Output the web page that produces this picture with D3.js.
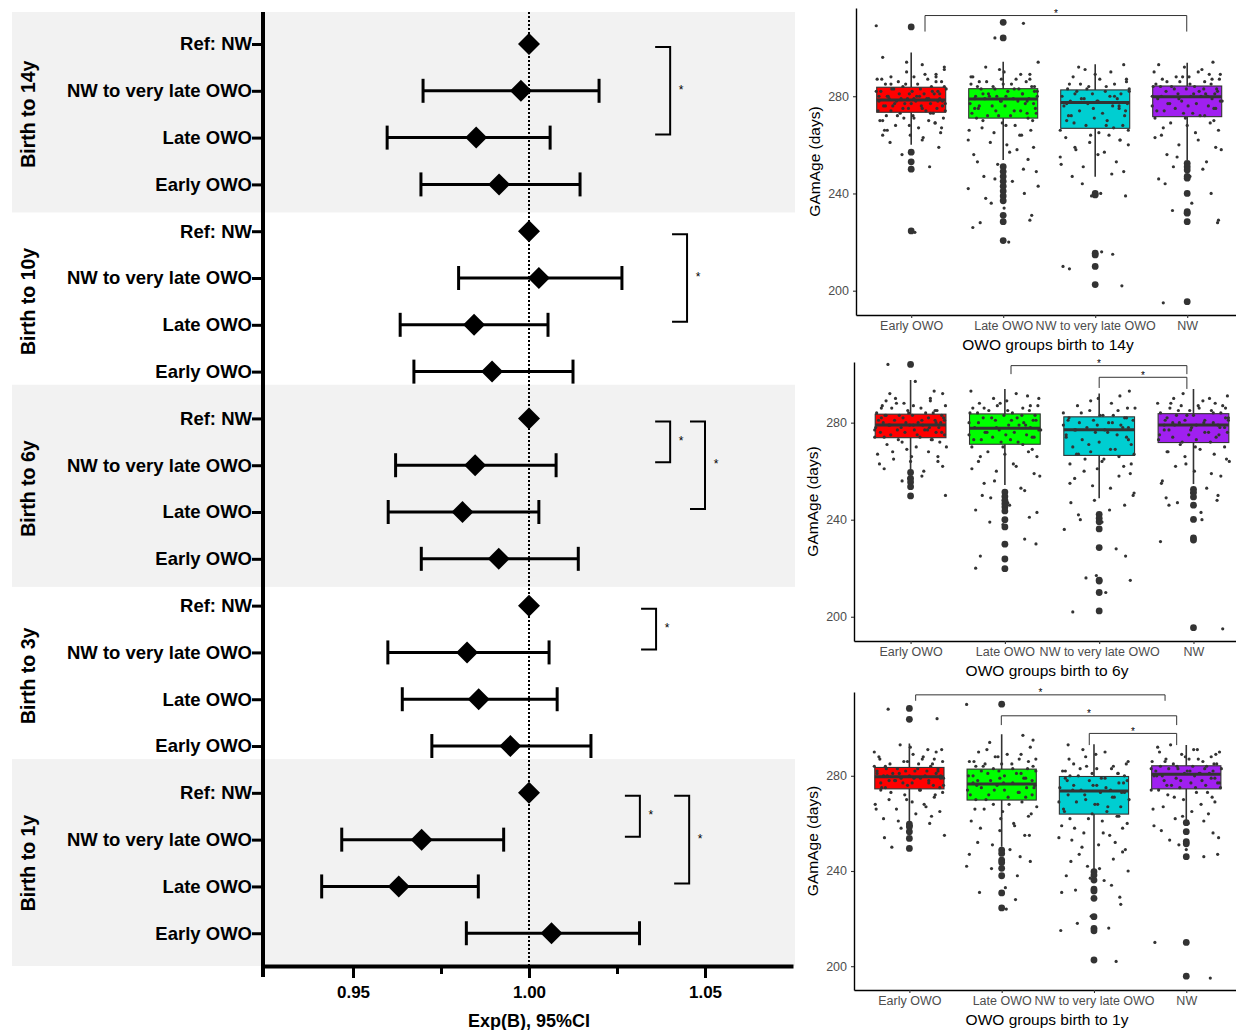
<!DOCTYPE html>
<html>
<head>
<meta charset="utf-8">
<script src="https://cdn.jsdelivr.net/npm/d3@7"></script>
<style>
  body { margin: 0; background: #fff; }
  text { font-family: "Liberation Sans", Arial, sans-serif; }
</style>
</head>
<body>
<svg id="chart"></svg>
<script>
// ---- Forest plot data ----
const groups = ["Birth to 14y", "Birth to 10y", "Birth to 6y", "Birth to 3y", "Birth to 1y"];
const rowLabels = ["Ref: NW", "NW to very late OWO", "Late OWO", "Early OWO"];

const est14 = [1.0, 0.9977, 0.985, 0.9915];
const lo14 = [null, 0.9699, 0.9597, 0.9693];
const hi14 = [null, 1.0199, 1.006, 1.0145];
const est10 = [1.0, 1.0028, 0.9844, 0.9895];
const lo10 = [null, 0.98, 0.9634, 0.9673];
const hi10 = [null, 1.0264, 1.0054, 1.0125];
const est6 = [1.0, 0.9847, 0.9811, 0.9914];
const lo6 = [null, 0.9621, 0.96, 0.9694];
const hi6 = [null, 1.0077, 1.0028, 1.014];
const est3 = [1.0, 0.9824, 0.9857, 0.9947];
const lo3 = [null, 0.9599, 0.964, 0.9724];
const hi3 = [null, 1.0057, 1.008, 1.0176];
const est1 = [1.0, 0.9695, 0.963, 1.0064];
const lo1 = [null, 0.9468, 0.9411, 0.9822];
const hi1 = [null, 0.9928, 0.9856, 1.0314];

const xTicks = [0.95, 0.975, 1.0, 1.025, 1.05];
const xTickLabels = ["0.95", "", "1.00", "", "1.05"];

// significance brackets: group, from row, to row, x (in Exp(B) units)
const forestSig = [
  { g: 0, from: 0, to: 2, x: 1.0401 },
  { g: 1, from: 0, to: 2, x: 1.0449 },
  { g: 2, from: 0, to: 1, x: 1.0401 },
  { g: 2, from: 0, to: 2, x: 1.05 },
  { g: 3, from: 0, to: 1, x: 1.0361 },
  { g: 4, from: 0, to: 1, x: 1.0315 },
  { g: 4, from: 0, to: 2, x: 1.0455 }
];

// ---- Box plot data ----
const boxCats = ["Early OWO", "Late OWO", "NW to very late OWO", "NW"];
const boxColors = ["#ff0000", "#00ff00", "#00ced1", "#a020f0"];

const q1_14 = [273.4, 271, 266.8, 271.6];
const med14 = [278.5, 278.9, 277.4, 279.8];
const q3_14 = [283.7, 283.1, 282.6, 284.2];
const wlo14 = [260, 253.8, 246.9, 253.8];
const whi14 = [298, 294.2, 293.2, 293.8];
const out14 = [
  [308.5, 257, 253, 250, 224.6],
  [310.4, 304, 251, 249, 247, 245, 243, 241, 239, 237, 231, 228.4, 220.6],
  [240, 239.4, 215.4, 214.7, 210, 202.5],
  [252.4, 251, 249.7, 247, 246.3, 240, 232.5, 231.9, 228.4, 195.5]
];
const jit14 = [
  [296, 293, 291, 290, 289, 288, 288, 287, 287, 286, 286, 285, 285, 284, 284, 283, 283, 282, 282, 282, 281, 281, 281, 280, 280, 280, 279, 279, 279, 279, 278, 278, 278, 277, 277, 277, 276, 276, 276, 275, 275, 274, 274, 273, 273, 272, 272, 271, 271, 270, 270, 269, 268, 267, 266, 265, 264, 263, 261, 259, 256, 251, 309, 224,
   289, 287, 286, 285, 284, 283, 283, 282, 282, 281, 281, 280, 280, 279, 279, 278, 278, 277, 277, 276, 276, 275, 275, 274, 274, 273, 272, 271, 270, 269, 268, 267, 266, 264, 262, 292, 294, 288, 285, 279],
  [310, 304, 294, 292, 290, 289, 288, 287, 287, 286, 286, 285, 285, 284, 284, 283, 283, 282, 282, 281, 281, 280, 280, 280, 279, 279, 279, 278, 278, 277, 277, 276, 276, 275, 275, 274, 274, 273, 273, 272, 272, 271, 270, 269, 268, 267, 266, 265, 264, 262, 260, 258, 256, 254, 252, 249, 247, 245, 242, 240, 236, 231, 228, 220,
   291, 289, 288, 287, 286, 285, 284, 284, 283, 283, 282, 281, 281, 280, 280, 279, 278, 278, 277, 276, 275, 274, 273, 272, 271, 270, 268, 266, 264, 261, 259, 257, 253, 250, 246, 243, 238, 234, 229, 226],
  [293, 291, 290, 288, 287, 286, 285, 285, 284, 283, 283, 282, 282, 281, 281, 280, 280, 279, 279, 278, 278, 277, 277, 276, 276, 275, 274, 273, 272, 272, 271, 270, 269, 268, 268, 267, 266, 265, 264, 263, 262, 261, 260, 258, 257, 255, 253, 251, 249, 247, 240, 239, 215, 210, 202,
   292, 289, 287, 285, 284, 283, 282, 281, 280, 279, 278, 277, 276, 275, 274, 272, 270, 268, 266, 264, 262, 259, 256, 252, 248, 244, 239, 216, 209],
  [294, 292, 291, 290, 289, 288, 288, 287, 287, 286, 286, 285, 285, 284, 284, 284, 283, 283, 282, 282, 281, 281, 281, 280, 280, 280, 279, 279, 278, 278, 277, 277, 276, 276, 275, 275, 274, 273, 273, 272, 271, 270, 269, 268, 266, 264, 262, 260, 258, 256, 253, 251, 247, 246, 240, 232, 228, 195,
   293, 290, 289, 288, 287, 286, 285, 284, 283, 283, 282, 281, 280, 280, 279, 278, 277, 276, 275, 274, 272, 271, 269, 267, 265, 263, 259, 255, 250, 244, 236, 229, 233]
];

const q1_6 = [273.8, 271.1, 266.5, 271.8];
const med6 = [279, 277.7, 277.1, 279];
const q3_6 = [283.5, 283.6, 282.4, 283.7];
const wlo6 = [260.5, 254.3, 248.8, 254.7];
const whi6 = [297.6, 293.9, 292, 293.9];
const out6 = [
  [304, 259.5, 257, 255.5, 253.6, 249.8],
  [251.4, 249.6, 248, 246.6, 245.2, 243.6, 240, 237, 229.9, 223.8, 219.8],
  [242.2, 240.6, 239.2, 236.2, 228.5, 215.1, 214.7, 210, 202.4],
  [252.5, 251.2, 249.4, 246, 240.1, 232.5, 231.6, 195.5]
];
const jit6 = [
  [304, 297, 292, 290, 289, 288, 287, 287, 286, 286, 285, 285, 284, 284, 284, 283, 283, 283, 282, 282, 282, 281, 281, 281, 280, 280, 280, 279, 279, 279, 278, 278, 278, 277, 277, 277, 276, 276, 276, 275, 275, 274, 274, 273, 273, 272, 271, 270, 269, 268, 267, 266, 265, 264, 262, 261, 258, 256, 250,
   292, 290, 288, 287, 286, 285, 284, 283, 283, 282, 281, 281, 280, 280, 279, 279, 278, 277, 277, 276, 275, 274, 273, 272, 270, 268, 266, 264, 263, 260, 257, 293, 289],
  [293, 291, 290, 289, 288, 287, 287, 286, 286, 285, 285, 284, 284, 283, 283, 282, 282, 281, 281, 280, 280, 279, 279, 278, 278, 277, 277, 276, 276, 275, 275, 274, 274, 273, 273, 272, 271, 270, 269, 268, 267, 266, 264, 262, 260, 258, 255, 252, 249, 247, 244, 241, 238, 230, 225, 220,
   292, 290, 288, 287, 286, 285, 284, 283, 282, 281, 281, 280, 279, 278, 277, 276, 275, 274, 273, 272, 270, 268, 266, 263, 261, 259, 256, 253, 250, 246, 243, 239, 232],
  [293, 290, 288, 287, 286, 285, 285, 284, 283, 283, 282, 282, 281, 281, 280, 280, 279, 279, 278, 278, 277, 277, 276, 275, 274, 274, 273, 272, 271, 270, 269, 268, 267, 267, 266, 265, 264, 263, 262, 261, 259, 257, 255, 253, 250, 248, 246, 242, 239, 236, 228, 216, 215, 210, 202,
   291, 289, 286, 284, 283, 282, 281, 280, 279, 278, 277, 276, 275, 273, 271, 269, 267, 265, 263, 260, 258, 254, 251, 247, 244, 240, 225, 217],
  [291, 290, 289, 288, 288, 287, 287, 286, 286, 285, 285, 284, 284, 283, 283, 282, 282, 281, 281, 281, 280, 280, 280, 279, 279, 279, 278, 278, 277, 277, 276, 276, 275, 275, 274, 273, 273, 272, 271, 270, 269, 268, 267, 266, 264, 262, 260, 258, 256, 253, 251, 248, 246, 240, 231, 195,
   292, 290, 288, 287, 286, 285, 284, 283, 282, 281, 280, 279, 278, 277, 276, 275, 274, 272, 270, 268, 265, 263, 259, 255, 250, 247, 243, 249]
];

const q1_1 = [274.5, 269.8, 263.9, 274.5];
const med1 = [279.6, 276.5, 273.6, 280.6];
const q3_1 = [283.5, 282.8, 279.7, 284.2];
const wlo1 = [260.7, 250.2, 240.7, 261.4];
const whi1 = [293.6, 297.5, 293.2, 292.9];
const out1 = [
  [308.3, 303.7, 259.7, 258.6, 256.5, 253.7, 249.5],
  [310.1, 248.8, 247.4, 244.6, 243.6, 241.1, 238, 230.8, 224.5],
  [239.7, 238.3, 236.2, 232.4, 231.6, 228.5, 220.8, 215.9, 214.9, 202.6],
  [260.3, 256.5, 252.3, 251.4, 246, 210, 195.8]
];
const jit1 = [
  [308, 304, 293, 291, 290, 289, 288, 287, 287, 286, 286, 285, 285, 284, 284, 283, 283, 283, 282, 282, 282, 281, 281, 281, 280, 280, 280, 279, 279, 279, 278, 278, 278, 277, 277, 276, 276, 275, 275, 274, 274, 273, 272, 271, 270, 269, 268, 267, 266, 265, 264, 262, 260, 258, 255, 250,
   292, 290, 288, 287, 286, 285, 284, 283, 282, 282, 281, 280, 280, 279, 279, 278, 277, 277, 276, 275, 274, 273, 272, 270, 268, 266, 263, 261, 259, 254, 291],
  [310, 297, 294, 292, 290, 289, 288, 287, 286, 286, 285, 285, 284, 284, 283, 283, 282, 282, 281, 281, 280, 280, 279, 279, 278, 278, 277, 277, 276, 276, 275, 275, 274, 274, 273, 272, 272, 271, 270, 269, 268, 267, 266, 265, 263, 261, 259, 257, 255, 252, 249, 247, 244, 241, 238, 231, 224,
   295, 291, 289, 288, 287, 286, 285, 284, 283, 282, 281, 280, 279, 278, 277, 276, 275, 274, 273, 272, 271, 270, 268, 266, 264, 262, 260, 258, 255, 251, 246, 242, 233, 228],
  [293, 290, 288, 286, 285, 284, 283, 283, 282, 281, 281, 280, 280, 279, 279, 278, 278, 277, 276, 276, 275, 274, 274, 273, 273, 272, 271, 270, 270, 269, 268, 267, 266, 265, 264, 263, 262, 261, 259, 258, 256, 255, 253, 251, 249, 247, 245, 242, 240, 238, 236, 232, 229, 221, 216, 215, 202,
   291, 289, 287, 285, 284, 283, 282, 281, 280, 279, 278, 277, 276, 275, 274, 273, 272, 271, 269, 268, 267, 265, 263, 262, 260, 258, 256, 254, 252, 250, 248, 244, 241, 237, 234, 231, 226, 218],
  [292, 291, 290, 289, 288, 287, 287, 286, 286, 285, 285, 284, 284, 284, 283, 283, 283, 282, 282, 282, 281, 281, 281, 280, 280, 280, 279, 279, 278, 278, 277, 277, 276, 276, 275, 275, 274, 273, 272, 271, 270, 268, 266, 264, 262, 260, 257, 254, 251, 246, 210, 195,
   293, 291, 290, 289, 288, 287, 286, 285, 284, 283, 283, 282, 281, 280, 279, 278, 277, 276, 275, 274, 273, 271, 269, 267, 265, 263, 261, 259, 256, 253, 249, 247]
];

// horizontal jitter offsets (category units)
const jitterX = [-0.31, 0.12, 0.36, -0.05, 0.27, -0.22, 0.03, -0.37, 0.18, -0.14, 0.33, 0.07, -0.28, 0.22, -0.09, 0.38, -0.19, 0.01, 0.29, -0.33, 0.14, -0.02, 0.25, -0.26, 0.09, -0.35, 0.31, -0.11, 0.17, -0.24, 0.05, 0.34, -0.16, 0.21, -0.07, 0.37, -0.3, 0.11, -0.2, 0.28, -0.03, 0.16, -0.36, 0.24, -0.12, 0.02, -0.27, 0.35, -0.08, 0.19, -0.34, 0.26, -0.17, 0.08, -0.29, 0.32, -0.01, 0.13, -0.23, 0.3, -0.1, 0.2, -0.38, 0.04,
  0.15, -0.32, 0.27, -0.06, 0.36, -0.21, 0.1, -0.38, 0.23, -0.13, 0.31, -0.25, 0.06, -0.04, 0.19, -0.35, 0.29, -0.18, 0.0, 0.34, -0.28, 0.12, -0.09, 0.37, -0.22, 0.21, -0.15, 0.03, -0.31, 0.26, -0.02, 0.33, -0.26];

// box plot significance brackets (x in category units, y in days)
const sig14 = [{ x1: 1.15, x2: 3.995, y: 313.2, leg1: 306.6, leg2: 306.6 }];
const sig6 = [
  { x1: 2.065, x2: 3.93, y: 303.5, leg1: 300, leg2: 300 },
  { x1: 3.0, x2: 3.93, y: 298.7, leg1: 294.3, leg2: 293.9 }
];
const sig1 = [
  { x1: 1.068, x2: 3.77, y: 314, leg1: 311.5, leg2: 311.5 },
  { x1: 1.996, x2: 3.896, y: 305.2, leg1: 301.3, leg2: 301.3 },
  { x1: 2.949, x2: 3.896, y: 297.8, leg1: 292.9, leg2: 292.9 }
];

// ---- SVG ----
const W = 1236, H = 1030;
const svg = d3.select("#chart").attr("width", W).attr("height", H);
svg.append("rect").attr("width", W).attr("height", H).attr("fill", "#fff");

// ================= Forest plot =================
const forestEst = [est14, est10, est6, est3, est1];
const forestLo = [lo14, lo10, lo6, lo3, lo1];
const forestHi = [hi14, hi10, hi6, hi3, hi1];

const rows = groups.flatMap((g, gi) =>
  rowLabels.map((label, k) => ({
    gi, k, r: gi * 4 + k, label,
    est: forestEst[gi][k], lo: forestLo[gi][k], hi: forestHi[gi][k]
  }))
);

const fx = d3.scaleLinear().domain([0.92443, 1.075]).range([263, 793]);
const fy = d3.scaleLinear().domain([-0.6838, 19.7]).range([12, 966]);

// Shaded bands
const forest = svg.append("g");
forest.selectAll(".band")
  .data(groups.map((g, i) => i).filter((i) => i % 2 === 0))
  .enter()
  .append("rect")
  .attr("x", 12)
  .attr("width", 795 - 12)
  .attr("y", (g) => Math.max(12, fy(g * 4 - 0.72)))
  .attr("height", (g) => {
    const top = Math.max(12, fy(g * 4 - 0.72));
    const bot = g === groups.length - 1 ? 966 : fy(g * 4 + 3.6);
    return bot - top;
  })
  .attr("fill", "#f2f2f2");

// Reference line
forest.append("line")
  .attr("x1", fx(1)).attr("x2", fx(1))
  .attr("y1", 12).attr("y2", 966)
  .attr("stroke", "#000")
  .attr("stroke-width", 2)
  .attr("stroke-dasharray", "2,2");

// Error bars
const ci = rows.filter((d) => d.lo !== null);
forest.selectAll(".ci")
  .data(ci)
  .enter()
  .append("line")
  .attr("x1", (d) => fx(d.lo)).attr("x2", (d) => fx(d.hi))
  .attr("y1", (d) => fy(d.r)).attr("y2", (d) => fy(d.r))
  .attr("stroke", "#000").attr("stroke-width", 3);

forest.selectAll(".cap")
  .data(ci.flatMap((d) => [{ v: d.lo, r: d.r }, { v: d.hi, r: d.r }]))
  .enter()
  .append("line")
  .attr("x1", (d) => fx(d.v)).attr("x2", (d) => fx(d.v))
  .attr("y1", (d) => fy(d.r) - 12).attr("y2", (d) => fy(d.r) + 12)
  .attr("stroke", "#000").attr("stroke-width", 3);

// Diamonds
forest.selectAll(".pt")
  .data(rows)
  .enter()
  .append("path")
  .attr("transform", (d) => `translate(${fx(d.est)},${fy(d.r)})`)
  .attr("d", "M0,-11L11,0L0,11L-11,0Z")
  .attr("fill", "#000");

// Significance brackets
forestSig.forEach((s) => {
  const y1 = fy(s.g * 4 + s.from) + 3;
  const y2 = fy(s.g * 4 + s.to) - 3;
  const x = fx(s.x);
  forest.append("path")
    .attr("d", `M${x - 15},${y1}H${x}V${y2}H${x - 15}`)
    .attr("fill", "none")
    .attr("stroke", "#000")
    .attr("stroke-width", 2);
  forest.append("text")
    .attr("x", x + 11)
    .attr("y", (y1 + y2) / 2 + 3)
    .attr("text-anchor", "middle")
    .attr("font-size", 12)
    .text("*");
});

// X axis
const fxAxis = d3.axisBottom(fx)
  .tickValues(xTicks)
  .tickFormat((d, i) => xTickLabels[i])
  .tickSize(12)
  .tickSizeOuter(0)
  .tickPadding(8);

const gfx = forest.append("g")
  .attr("transform", "translate(0,966)")
  .call(fxAxis);
gfx.select(".domain").attr("stroke-width", 4).attr("stroke", "#000");
gfx.selectAll(".tick line").attr("stroke-width", 3).attr("stroke", "#000")
  .attr("y2", (d, i) => (xTickLabels[i] ? 12 : 8));
gfx.selectAll(".tick text")
  .attr("font-family", "'Liberation Sans', Arial, sans-serif")
  .attr("font-size", 17)
  .attr("font-weight", "bold")
  .attr("fill", "#000");

forest.append("text")
  .attr("x", fx(1))
  .attr("y", 1027)
  .attr("text-anchor", "middle")
  .attr("font-size", 18)
  .attr("font-weight", "bold")
  .text("Exp(B), 95%CI");

// Y axis
const fyAxis = d3.axisLeft(fy)
  .tickValues(rows.map((d) => d.r))
  .tickFormat((r) => rows[r].label)
  .tickSize(11)
  .tickSizeOuter(0)
  .tickPadding(0);

const gfy = forest.append("g")
  .attr("transform", "translate(263,0)")
  .call(fyAxis);
gfy.select(".domain").remove();
gfy.selectAll(".tick line").attr("stroke-width", 3).attr("stroke", "#000");
gfy.selectAll(".tick text")
  .attr("font-family", "'Liberation Sans', Arial, sans-serif")
  .attr("font-size", 18.5)
  .attr("font-weight", "bold")
  .attr("fill", "#000");

forest.append("line")
  .attr("x1", 263).attr("x2", 263)
  .attr("y1", 12).attr("y2", 977)
  .attr("stroke", "#000")
  .attr("stroke-width", 4);

// Group labels
forest.selectAll(".glab")
  .data(groups)
  .enter()
  .append("text")
  .attr("transform", (d, i) => `translate(35,${fy(i * 4 + 1.5)}) rotate(-90)`)
  .attr("text-anchor", "middle")
  .attr("font-size", 19.5)
  .attr("font-weight", "bold")
  .text((d) => d);

// ================= Box plots =================
const panels = [
  { title: "OWO groups birth to 14y", q1: q1_14, med: med14, q3: q3_14, wlo: wlo14, whi: whi14, out: out14, jit: jit14, sig: sig14,
    x0: 856, unit: 92, top: 8, bottom: 315, vTop: 316.3 },
  { title: "OWO groups birth to 6y", q1: q1_6, med: med6, q3: q3_6, wlo: wlo6, whi: whi6, out: out6, jit: jit6, sig: sig6,
    x0: 854, unit: 94.3, top: 362, bottom: 641, vTop: 305 },
  { title: "OWO groups birth to 1y", q1: q1_1, med: med1, q3: q3_1, wlo: wlo1, whi: whi1, out: out1, jit: jit1, sig: sig1,
    x0: 854, unit: 92.3, top: 692, bottom: 990, vTop: 315.2 }
];

panels.forEach((p, pi) => {
  const g = svg.append("g");
  const x = d3.scaleLinear().domain([0.4, 4.6]).range([p.x0, p.x0 + 4.2 * p.unit]);
  const y = d3.scaleLinear().domain([190, p.vTop]).range([p.bottom, p.top]);
  const bw = 0.75 * p.unit;

  const boxes = boxCats.map((c, i) => ({
    i, c, pos: i + 1, q1: p.q1[i], med: p.med[i], q3: p.q3[i], wlo: p.wlo[i], whi: p.whi[i], out: p.out[i]
  }));

  // whiskers
  g.selectAll(".wh")
    .data(boxes)
    .enter()
    .append("path")
    .attr("d", (d) => `M${x(d.pos)},${y(d.whi)}V${y(d.q3)}M${x(d.pos)},${y(d.q1)}V${y(d.wlo)}`)
    .attr("stroke", "#333")
    .attr("stroke-width", 1.6);

  // boxes
  g.selectAll(".box")
    .data(boxes)
    .enter()
    .append("rect")
    .attr("x", (d) => x(d.pos) - bw / 2)
    .attr("width", bw)
    .attr("y", (d) => y(d.q3))
    .attr("height", (d) => y(d.q1) - y(d.q3))
    .attr("fill", (d) => boxColors[d.i])
    .attr("stroke", "#333")
    .attr("stroke-width", 1.1);

  // medians
  g.selectAll(".med")
    .data(boxes)
    .enter()
    .append("line")
    .attr("x1", (d) => x(d.pos) - bw / 2)
    .attr("x2", (d) => x(d.pos) + bw / 2)
    .attr("y1", (d) => y(d.med))
    .attr("y2", (d) => y(d.med))
    .attr("stroke", "#333")
    .attr("stroke-width", 3);

  // outliers
  g.selectAll(".out")
    .data(boxes.flatMap((d) => d.out.map((v) => ({ pos: d.pos, v }))))
    .enter()
    .append("circle")
    .attr("cx", (d) => x(d.pos))
    .attr("cy", (d) => y(d.v))
    .attr("r", 3.4)
    .attr("fill", "#333");

  // jittered points
  const pts = boxes.flatMap((d) =>
    p.jit[d.i].map((v, j) => ({ pos: d.pos, v, dx: jitterX[(j + d.i * 13 + pi * 29) % jitterX.length] }))
  );
  g.selectAll(".jit")
    .data(pts)
    .enter()
    .append("circle")
    .attr("cx", (d) => x(d.pos + d.dx))
    .attr("cy", (d) => y(d.v))
    .attr("r", 1.6)
    .attr("fill", "#333");

  // significance brackets
  p.sig.forEach((s) => {
    g.append("path")
      .attr("d", `M${x(s.x1)},${y(s.leg1)}V${y(s.y)}H${x(s.x2)}V${y(s.leg2)}`)
      .attr("fill", "none")
      .attr("stroke", "#333")
      .attr("stroke-width", 1);
    g.append("text")
      .attr("x", (x(s.x1) + x(s.x2)) / 2)
      .attr("y", y(s.y) + 1.5)
      .attr("text-anchor", "middle")
      .attr("font-size", 10)
      .attr("fill", "#000")
      .text("*");
  });

  // axes
  const gy = g.append("g")
    .attr("transform", `translate(${p.x0},0)`)
    .call(d3.axisLeft(y).tickValues([200, 240, 280]).tickSize(3).tickSizeOuter(0).tickPadding(4));
  gy.select(".domain").attr("stroke", "#000").attr("stroke-width", 1.4);
  gy.selectAll(".tick line").attr("stroke", "#333").attr("stroke-width", 1.1);
  gy.selectAll(".tick text")
    .attr("font-family", "'Liberation Sans', Arial, sans-serif")
    .attr("font-size", 12.5)
    .attr("fill", "#4d4d4d");

  const gx = g.append("g")
    .attr("transform", `translate(0,${p.bottom})`)
    .call(d3.axisBottom(x).tickValues([1, 2, 3, 4]).tickFormat((d) => boxCats[d - 1]).tickSize(3).tickSizeOuter(0).tickPadding(3));
  gx.select(".domain").attr("stroke", "#000").attr("stroke-width", 1.4);
  gx.selectAll(".tick line").attr("stroke", "#333").attr("stroke-width", 1.1);
  gx.selectAll(".tick text")
    .attr("font-family", "'Liberation Sans', Arial, sans-serif")
    .attr("font-size", 12.5)
    .attr("fill", "#4d4d4d");

  g.append("text")
    .attr("x", (p.x0 + 1236) / 2 + 2)
    .attr("y", p.bottom + 35)
    .attr("text-anchor", "middle")
    .attr("font-size", 15.5)
    .attr("fill", "#000")
    .text(p.title);

  g.append("text")
    .attr("transform", `translate(${p.x0 - 36},${(p.top + p.bottom) / 2}) rotate(-90)`)
    .attr("text-anchor", "middle")
    .attr("font-size", 15.5)
    .attr("fill", "#000")
    .text("GAmAge (days)");
});
</script>
</body>
</html>
